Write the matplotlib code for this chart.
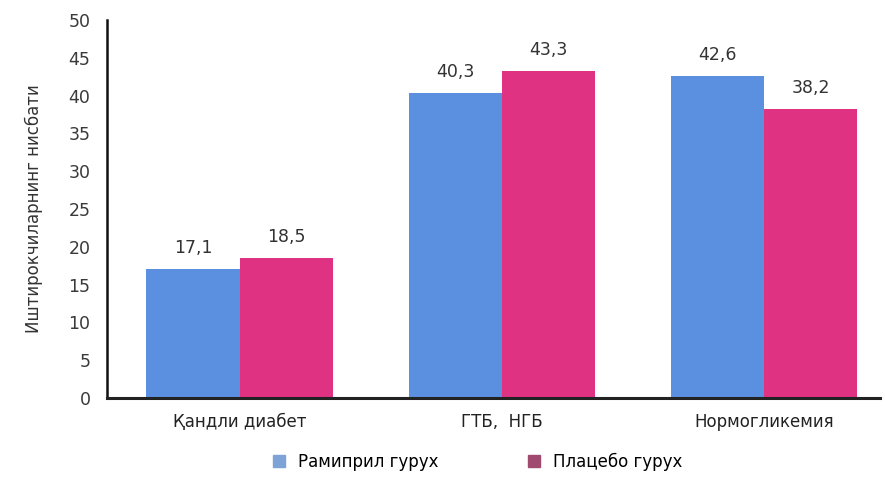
import matplotlib
matplotlib.use("Agg")
import matplotlib.pyplot as plt
import numpy as np
from matplotlib.patches import Patch

plt.rcParams['font.family'] = ['DejaVu Sans']

categories = ["Қандли диабет", "ГТБ,  НГБ", "Нормогликемия"]
ramipril = [17.1, 40.3, 42.6]
placebo = [18.5, 43.3, 38.2]
ramipril_labels = ["17,1", "40,3", "42,6"]
placebo_labels = ["18,5", "43,3", "38,2"]
series_names = ["Рамиприл гурух", "Плацебо гурух"]
yticks = [0, 5, 10, 15, 20, 25, 30, 35, 40, 45, 50]

fig = plt.figure(figsize=(8.85, 4.9), dpi=100)
ax = fig.add_axes([0.121, 0.188, 0.873, 0.771])

x = np.arange(len(categories))
w = 0.355
c_blue = "#5b8fe0"
c_mag = "#df3282"
b1 = ax.bar(x - w/2, ramipril, w, color=c_blue)
b2 = ax.bar(x + w/2, placebo, w, color=c_mag)

for rect, lab in zip(list(b1) + list(b2), ramipril_labels + placebo_labels):
    ax.text(rect.get_x() + rect.get_width()/2, rect.get_height() + 1.6, lab,
            ha='center', va='bottom', fontsize=12.5, color='#333333')

ax.set_xlim(-0.505, 2.44)
ax.set_ylim(0, 50)
ax.set_yticks(yticks)
ax.set_yticklabels([str(t) for t in yticks], fontsize=12.5, color='#3a3a3a')
ax.tick_params(axis='y', length=0, pad=12)
ax.set_xticks(x)
ax.set_xticklabels(categories, fontsize=12, color='#222222')
ax.tick_params(axis='x', length=0, pad=11)

for s in ['top', 'right']:
    ax.spines[s].set_visible(False)
ax.spines['left'].set_linewidth(1.8)
ax.spines['bottom'].set_linewidth(2.2)
ax.spines['left'].set_color('#111111')
ax.spines['bottom'].set_color('#222222')

ax.set_ylabel("Иштирокчиларнинг нисбати", fontsize=12, color='#333333', labelpad=18)

handles = [Patch(color="#7fa3d6"), Patch(color="#a04a70")]
fig.legend(handles, series_names, loc='center', bbox_to_anchor=(0.54, 0.058),
           ncol=2, frameon=False, fontsize=12, handlelength=0.7, handleheight=0.7,
           columnspacing=5.4, handletextpad=0.8)

fig.savefig("out.png", dpi=100, facecolor='white')
